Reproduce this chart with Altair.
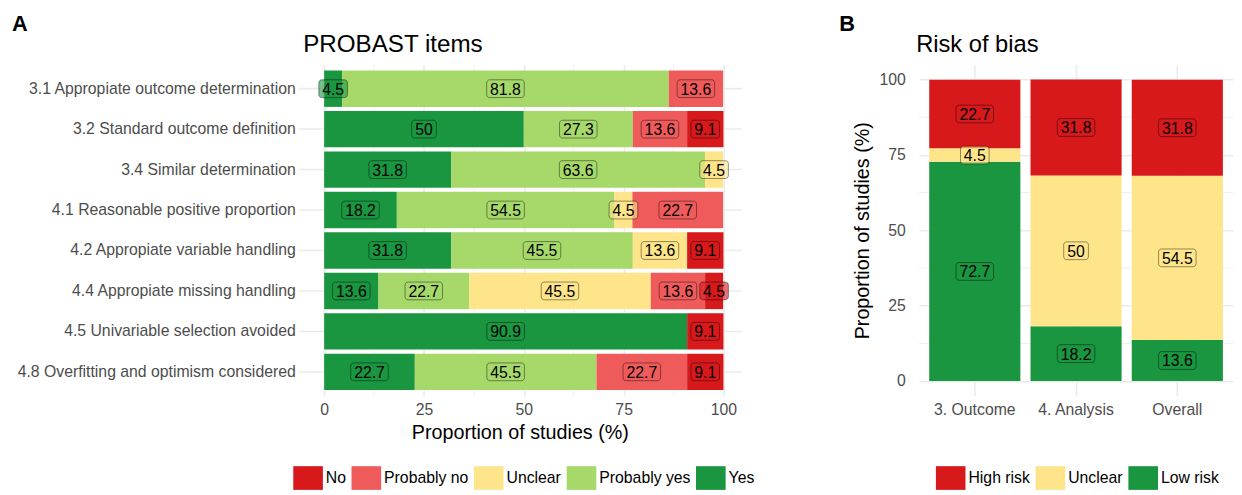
import altair as alt
import pandas as pd

FONT = "Liberation Sans"
GRID = "#EBEBEB"

# ---------------- Panel A data ----------------
items = [
    "3.1 Appropiate outcome determination",
    "3.2 Standard outcome definition",
    "3.4 Similar determination",
    "4.1 Reasonable positive proportion",
    "4.2 Appropiate variable handling",
    "4.4 Appropiate missing handling",
    "4.5 Univariable selection avoided",
    "4.8 Overfitting and optimism considered",
]
yes_vals = [4.5, 50, 31.8, 18.2, 31.8, 13.6, 90.9, 22.7]
prob_yes_vals = [81.8, 27.3, 63.6, 54.5, 45.5, 22.7, 0, 45.5]
unclear_vals = [0, 0, 4.5, 4.5, 13.6, 45.5, 0, 0]
prob_no_vals = [13.6, 13.6, 0, 22.7, 0, 13.6, 0, 22.7]
no_vals = [0, 9.1, 0, 0, 9.1, 4.5, 9.1, 9.1]

cat_a = ["No", "Probably no", "Unclear", "Probably yes", "Yes"]
col_a = ["#D7191C", "#EF5B5B", "#FEE58A", "#A6D96A", "#1A9641"]
stack_order_a = ["Yes", "Probably yes", "Unclear", "Probably no", "No"]

# ---------------- Panel B data ----------------
domains_b = ["3. Outcome", "4. Analysis", "Overall"]
low_vals = [72.7, 18.2, 13.6]
unclear_b_vals = [4.5, 50, 54.5]
high_vals = [22.7, 31.8, 31.8]

cat_b = ["High risk", "Unclear", "Low risk"]
col_b = ["#D7191C", "#FEE58A", "#1A9641"]
stack_order_b = ["Low risk", "Unclear", "High risk"]

major_ticks = [0, 25, 50, 75, 100]
minor_ticks = [12.5, 37.5, 62.5, 87.5]


def fmt(v):
    return f"{v:g}"


series_a = {"Yes": yes_vals, "Probably yes": prob_yes_vals, "Unclear": unclear_vals,
            "Probably no": prob_no_vals, "No": no_vals}
rows_a = []
for i, item in enumerate(items):
    for k, cat in enumerate(stack_order_a):
        v = series_a[cat][i]
        if v > 0:
            rows_a.append({"item": item, "response": cat, "value": v, "order": k, "label": fmt(v)})
df_a = pd.DataFrame(rows_a)

series_b = {"Low risk": low_vals, "Unclear": unclear_b_vals, "High risk": high_vals}
rows_b = []
for i, d in enumerate(domains_b):
    for k, cat in enumerate(stack_order_b):
        v = series_b[cat][i]
        if v > 0:
            rows_b.append({"domain": d, "risk": cat, "value": v, "order": k, "label": fmt(v)})
df_b = pd.DataFrame(rows_b)

W_A, W_B, H = 449, 318, 336
LABEL_W = {2: 25, 3: 29, 4: 38}
LABEL_H = 18
SYMBOL = "M-1.25,-1H1.25V1H-1.25Z"

# ---------------- Panel A ----------------
x_scale_a = alt.Scale(domain=[-6.5, 104.5], nice=False, zero=False)
x_axis_a = alt.Axis(values=major_ticks, title="Proportion of studies (%)", labelPadding=6,
                    titlePadding=5, grid=True)
y_scale_a = alt.Scale(domain=items, paddingInner=0.1, paddingOuter=0.15)
y_axis_a = alt.Axis(title=None, labelPadding=3, grid=True, bandPosition=0.5,
                    labelLimit=400, minExtent=289, maxExtent=289)

legend_a = alt.Legend(orient="none", legendX=-2, legendY=407, direction="horizontal", columns=5,
                      title=None, symbolType=SYMBOL, symbolSize=576, labelFontSize=16,
                      labelFont=FONT, labelColor="black", labelOffset=6, columnPadding=5,
                      symbolStrokeWidth=0, symbolOpacity=1, padding=0)
color_a = alt.Color("response:N", scale=alt.Scale(domain=cat_a, range=col_a), legend=legend_a)

base_a = alt.Chart(df_a).transform_stack(
    stack="value", groupby=["item"], as_=["start", "end"],
    sort=[alt.SortField("order", order="ascending")]
).transform_calculate(mid="(datum.start + datum.end) / 2")

minor_a = alt.Chart(pd.DataFrame({"v": minor_ticks})).mark_rule(color=GRID, strokeWidth=0.8).encode(
    x=alt.X("v:Q", scale=x_scale_a, axis=x_axis_a)
)
bars_a = base_a.mark_bar().encode(
    x=alt.X("start:Q", scale=x_scale_a, axis=x_axis_a),
    x2="end:Q",
    y=alt.Y("item:N", scale=y_scale_a, axis=y_axis_a),
    color=color_a,
)
boxes_a = [
    base_a.transform_filter(f"length(datum.label) == {n}").mark_rect(
        width=w, height=LABEL_H, cornerRadius=3, fillOpacity=0.6, stroke="black",
        strokeWidth=0.6, strokeOpacity=0.7
    ).encode(
        x=alt.X("mid:Q", scale=x_scale_a, axis=x_axis_a),
        y=alt.Y("item:N", scale=y_scale_a, axis=y_axis_a),
        color=color_a,
    )
    for n, w in LABEL_W.items()
]
text_a = base_a.mark_text(font=FONT, fontSize=16, color="black", baseline="middle", dy=1).encode(
    x=alt.X("mid:Q", scale=x_scale_a, axis=x_axis_a),
    y=alt.Y("item:N", scale=y_scale_a, axis=y_axis_a),
    text="label:N",
)
tag_a = alt.Chart(pd.DataFrame({"t": ["A"]})).mark_text(
    font=FONT, fontSize=22, fontWeight="bold", align="left", baseline="alphabetic", color="black"
).encode(x=alt.value(-290), y=alt.value(-34), text="t:N")
title_a = alt.Chart(pd.DataFrame({"t": ["PROBAST items"]})).mark_text(
    font=FONT, fontSize=24.5, align="left", baseline="alphabetic", color="black"
).encode(x=alt.value(5), y=alt.value(-13), text="t:N")

chart_a = alt.layer(minor_a, bars_a, *boxes_a, text_a, tag_a, title_a).properties(width=W_A, height=H)

# ---------------- Panel B ----------------
x_scale_b = alt.Scale(domain=domains_b, paddingInner=0.1, paddingOuter=0.1)
x_axis_b = alt.Axis(title=None, labelAngle=0, labelPadding=6, grid=True, bandPosition=0.5)
y_scale_b = alt.Scale(domain=[-5, 105], nice=False, zero=False)
y_axis_b = alt.Axis(values=major_ticks, title="Proportion of studies (%)", labelPadding=14,
                    titlePadding=7, grid=True)

legend_b = alt.Legend(orient="none", legendX=20, legendY=407, direction="horizontal", columns=3,
                      title=None, symbolType=SYMBOL, symbolSize=576, labelFontSize=16,
                      labelFont=FONT, labelColor="black", labelOffset=6, columnPadding=5,
                      symbolStrokeWidth=0, symbolOpacity=1, padding=0)
color_b = alt.Color("risk:N", scale=alt.Scale(domain=cat_b, range=col_b), legend=legend_b)

base_b = alt.Chart(df_b).transform_stack(
    stack="value", groupby=["domain"], as_=["start", "end"],
    sort=[alt.SortField("order", order="ascending")]
).transform_calculate(mid="(datum.start + datum.end) / 2")

minor_b = alt.Chart(pd.DataFrame({"v": minor_ticks})).mark_rule(color=GRID, strokeWidth=0.8).encode(
    y=alt.Y("v:Q", scale=y_scale_b, axis=y_axis_b)
)
bars_b = base_b.mark_bar().encode(
    x=alt.X("domain:N", scale=x_scale_b, axis=x_axis_b),
    y=alt.Y("start:Q", scale=y_scale_b, axis=y_axis_b),
    y2="end:Q",
    color=color_b,
)
boxes_b = [
    base_b.transform_filter(f"length(datum.label) == {n}").mark_rect(
        width=w, height=LABEL_H, cornerRadius=3, fillOpacity=0.6, stroke="black",
        strokeWidth=0.6, strokeOpacity=0.7
    ).encode(
        x=alt.X("domain:N", scale=x_scale_b, axis=x_axis_b),
        y=alt.Y("mid:Q", scale=y_scale_b, axis=y_axis_b),
        color=color_b,
    )
    for n, w in LABEL_W.items()
]
text_b = base_b.mark_text(font=FONT, fontSize=16, color="black", baseline="middle", dy=1).encode(
    x=alt.X("domain:N", scale=x_scale_b, axis=x_axis_b),
    y=alt.Y("mid:Q", scale=y_scale_b, axis=y_axis_b),
    text="label:N",
)
tag_b = alt.Chart(pd.DataFrame({"t": ["B"]})).mark_text(
    font=FONT, fontSize=22, fontWeight="bold", align="left", baseline="alphabetic", color="black"
).encode(x=alt.value(-81), y=alt.value(-34), text="t:N")
title_b = alt.Chart(pd.DataFrame({"t": ["Risk of bias"]})).mark_text(
    font=FONT, fontSize=24, align="left", baseline="alphabetic", color="black"
).encode(x=alt.value(-3), y=alt.value(-13), text="t:N")

chart_b = alt.layer(minor_b, bars_b, *boxes_b, text_b, tag_b, title_b).properties(width=W_B, height=H)

chart = alt.hconcat(chart_a, chart_b, spacing=180, bounds="flush").resolve_scale(
    color="independent"
).properties(
    padding={"left": 4, "top": 2, "right": 0, "bottom": 0}
).configure(font=FONT).configure_view(stroke=None).configure_axis(
    domain=False, ticks=False, gridColor=GRID, gridWidth=1.6,
    labelFont=FONT, labelFontSize=16, labelColor="#4D4D4D",
    titleFont=FONT, titleFontSize=20, titleColor="black", titleFontWeight="normal",
)

chart.save("out.html", embed_options={"renderer": "svg", "actions": False})
